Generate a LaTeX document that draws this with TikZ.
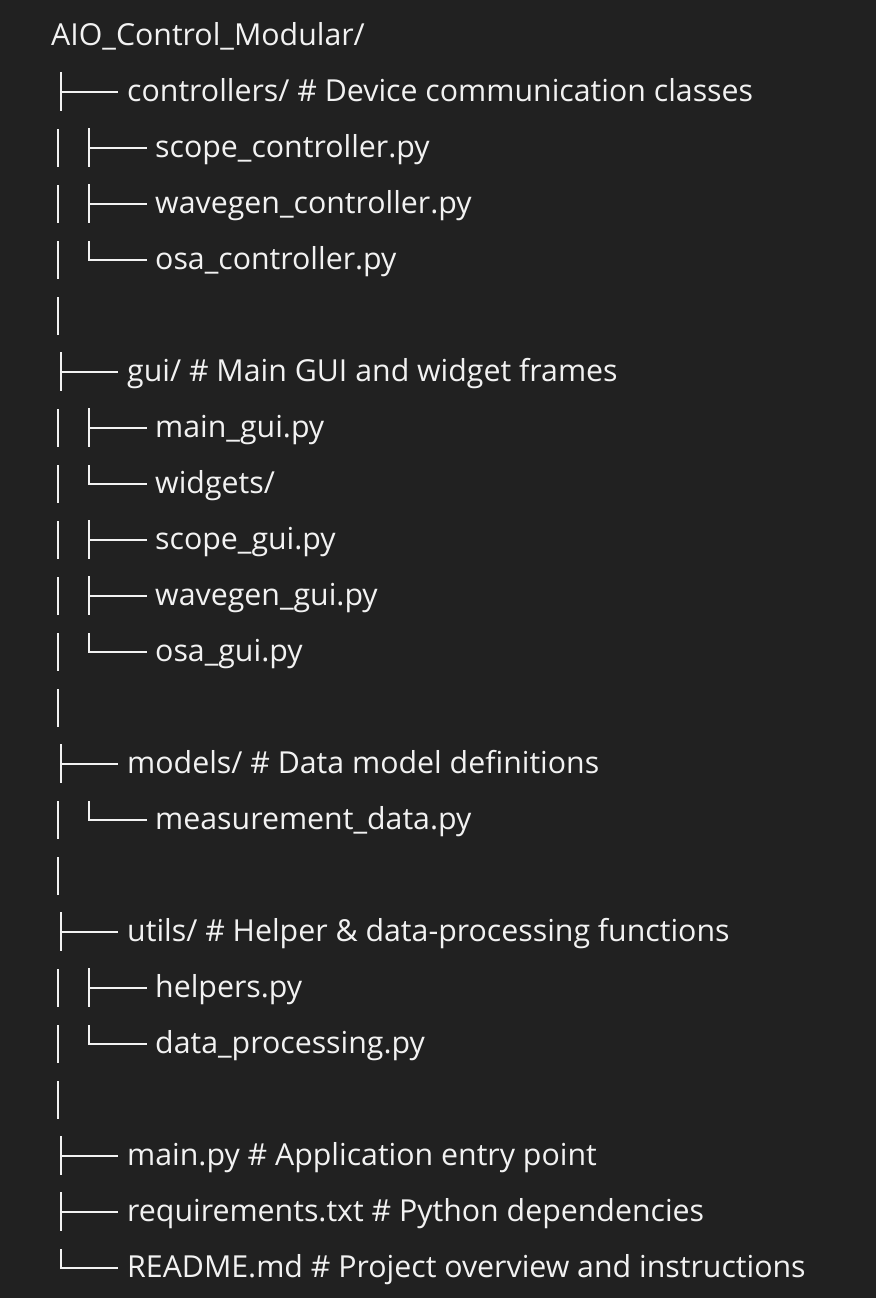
\documentclass[tikz,border=0pt]{standalone}
\usepackage{fontspec}
\setmainfont{Open Sans}
\definecolor{bg}{HTML}{212121}
\definecolor{fg}{HTML}{F2F2F2}
\tikzset{
  entry/.style={anchor=base west, inner sep=0pt, text=fg, font=\fontsize{30.3}{36}\selectfont},
  glyph/.style={draw=fg, line width=2.2pt, line cap=butt},
}
% tree glyph helpers (row centre y)
\newcommand\tOneTee[1]{\draw[glyph] (61,#1-19) -- (61,#1+20); \draw[glyph] (60,#1+1) -- (118,#1+1);}
\newcommand\tOneEll[1]{\draw[glyph] (61,#1-18) -- (61,#1+1) -- (118,#1+1);}
\newcommand\tBarOnly[1]{\draw[glyph] (58,#1-18) -- (58,#1+20);}
\newcommand\tTwoTee[1]{\tBarOnly{#1}\draw[glyph] (89,#1-19) -- (89,#1+20); \draw[glyph] (88,#1+1) -- (147,#1+1);}
\newcommand\tTwoEll[1]{\tBarOnly{#1}\draw[glyph] (89,#1-18) -- (89,#1+1) -- (147,#1+1);}
\begin{document}
\begin{tikzpicture}[x=1pt,y=-1pt]
\fill[bg] (0,0) rectangle (876,1298);
\useasboundingbox (0,0) rectangle (876,1298);
\node[entry] (t0) at (51,46) {AIO\_Control\_Modular/};
% rows: centre = 91 + 56*(i-1)
\tOneTee{91}  \node[entry] (t1)  at (127,101)  {controllers/ \# Device communication classes};
\tTwoTee{147} \node[entry] (t2)  at (155,157)  {scope\_controller.py};
\tTwoTee{203} \node[entry] (t3)  at (155,213)  {wavegen\_controller.py};
\tTwoEll{259} \node[entry] (t4)  at (155,269)  {osa\_controller.py};
\tBarOnly{315}
\tOneTee{371} \node[entry] (t6)  at (127,381)  {gui/ \# Main GUI and widget frames};
\tTwoTee{427} \node[entry] (t7)  at (155,437)  {main\_gui.py};
\tTwoEll{483} \node[entry] (t8)  at (155,493)  {widgets/};
\tTwoTee{539} \node[entry] (t9)  at (155,549)  {scope\_gui.py};
\tTwoTee{595} \node[entry] (t10) at (155,605)  {wavegen\_gui.py};
\tTwoEll{651} \node[entry] (t11) at (155,661)  {osa\_gui.py};
\tBarOnly{707}
\tOneTee{763} \node[entry] (t13) at (127,773)  {models/ \# Data model definitions};
\tTwoEll{819} \node[entry] (t14) at (155,829)  {measurement\_data.py};
\tBarOnly{875}
\tOneTee{931} \node[entry] (t16) at (127,941)  {utils/ \# Helper \& data-processing functions};
\tTwoTee{987} \node[entry] (t17) at (155,997)  {helpers.py};
\tTwoEll{1043}\node[entry] (t18) at (155,1053) {data\_processing.py};
\tBarOnly{1099}
\tOneTee{1155}\node[entry] (t20) at (127,1165) {main.py \# Application entry point};
\tOneTee{1211}\node[entry] (t21) at (127,1221) {requirements.txt \# Python dependencies};
\tOneEll{1267}\node[entry] (t22) at (127,1277) {README.md \# Project overview and instructions};
\end{tikzpicture}
\end{document}
